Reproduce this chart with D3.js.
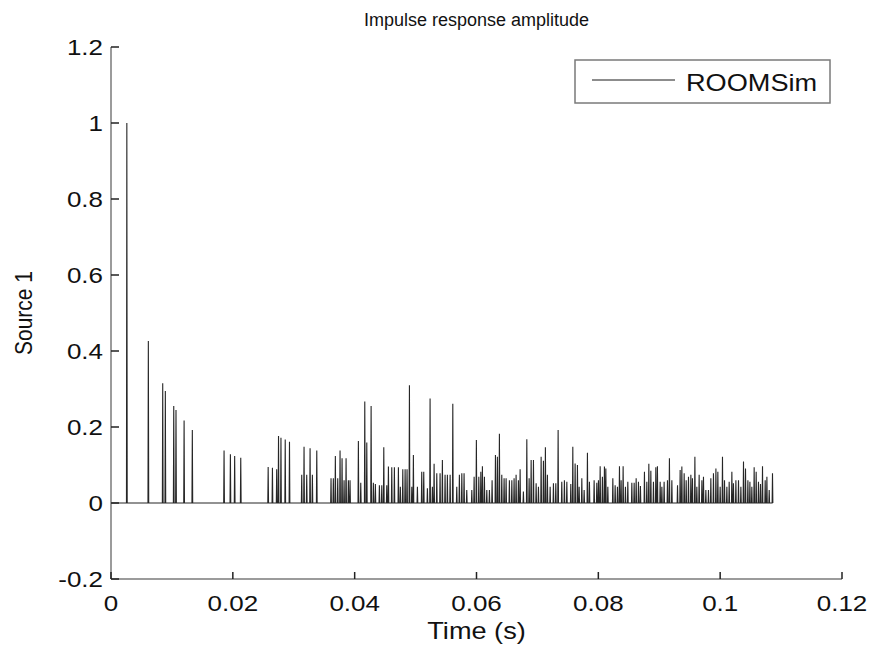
<!DOCTYPE html>
<html>
<head>
<meta charset="utf-8">
<script src="https://cdn.jsdelivr.net/npm/d3@7"></script>
<style>
  body { margin: 0; background: #fff; }
  text { font-family: "Liberation Sans", Arial, sans-serif; fill: #111; }
</style>
</head>
<body>
<div id="canvas"></div>
<script>
"use strict";

// Canvas setup
let svgWidth = 871;
let svgHeight = 646;
let margin = { top: 47, right: 29, bottom: 67, left: 111 };
let chartWidth = svgWidth - margin.left - margin.right;
let chartHeight = svgHeight - margin.top - margin.bottom;
let textStretch = 1.18; // the picture text is a bit wide

// Spike times (s)
let spikeTimes = [
  0.0026, 0.00613, 0.00849, 0.00892, 0.0103, 0.01067, 0.012, 0.01335,
  0.01856, 0.0196, 0.0203, 0.0213,
  0.0258, 0.0265, 0.0272, 0.0275, 0.0279, 0.0286, 0.0293,
  0.03131, 0.03169, 0.03213, 0.03268, 0.03306, 0.03378,
  0.03612, 0.0365, 0.03683, 0.03722, 0.0376, 0.03793, 0.03826, 0.03859, 0.03897, 0.03924,
  0.04061, 0.041, 0.04166, 0.04199, 0.0427, 0.04307, 0.0434, 0.04406, 0.04445, 0.04478,
  0.04527, 0.04554, 0.04609, 0.04652, 0.04718, 0.0475, 0.0479, 0.04828, 0.0486, 0.04899,
  0.04938, 0.04964, 0.0503, 0.05101, 0.05134, 0.05194, 0.05238, 0.05276,
  0.05304, 0.05348, 0.05402, 0.0544, 0.05484, 0.05522, 0.05567, 0.05611, 0.05676, 0.05719,
  0.05759, 0.05796, 0.0584, 0.05923, 0.05961, 0.05998, 0.06038, 0.06071, 0.06097, 0.0613,
  0.06169, 0.06212, 0.06256, 0.06311, 0.06343, 0.06376, 0.06415, 0.06453, 0.06486, 0.0654,
  0.0658, 0.06617, 0.0665, 0.06688, 0.06716, 0.0677, 0.06826, 0.06864, 0.06897, 0.06935,
  0.06979, 0.07017, 0.07061, 0.07099, 0.07131, 0.07164, 0.07209, 0.07263, 0.07302, 0.0734,
  0.074, 0.07443, 0.07483, 0.07548, 0.07581, 0.07619, 0.07657, 0.07685, 0.07729, 0.07767,
  0.07821, 0.07854, 0.07931, 0.07975, 0.08002, 0.0803, 0.08067, 0.081, 0.08123, 0.08156,
  0.08238, 0.08276, 0.08314, 0.08347, 0.08374, 0.08407, 0.08445, 0.08484, 0.0855, 0.08588,
  0.08621, 0.08659, 0.08691, 0.08757, 0.08796, 0.08829, 0.08862, 0.08905, 0.08944, 0.0897,
  0.09015, 0.09043, 0.0908, 0.09135, 0.09167, 0.09207, 0.093, 0.09343, 0.09371, 0.09409,
  0.09442, 0.0948, 0.09519, 0.09545, 0.09585, 0.09617, 0.09655, 0.097, 0.09726, 0.09765,
  0.09808, 0.09847, 0.0989, 0.0993, 0.09962, 0.1, 0.10038, 0.10071, 0.1011, 0.10148,
  0.10192, 0.10218, 0.10258, 0.10301, 0.1034, 0.10383, 0.10416, 0.10455, 0.10488, 0.1052,
  0.10558, 0.10591, 0.10629, 0.10662, 0.10695, 0.10739, 0.10767, 0.10805, 0.10859
];

// Spike amplitudes, same order
let spikeAmps = [
  1.0, 0.426, 0.315, 0.295, 0.255, 0.245, 0.217, 0.192,
  0.138, 0.128, 0.124, 0.119,
  0.095, 0.093, 0.089, 0.176, 0.172, 0.167, 0.161,
  0.074, 0.148, 0.074, 0.144, 0.074, 0.138,
  0.065, 0.065, 0.124, 0.065, 0.138, 0.118, 0.06, 0.118, 0.06, 0.06,
  0.163, 0.053, 0.267, 0.159, 0.255, 0.053, 0.05, 0.047, 0.047, 0.147,
  0.047, 0.096, 0.094, 0.094, 0.094, 0.043, 0.089, 0.089, 0.089, 0.31,
  0.043, 0.126, 0.043, 0.082, 0.082, 0.039, 0.275, 0.043,
  0.103, 0.078, 0.078, 0.113, 0.074, 0.074, 0.074, 0.261, 0.043, 0.074,
  0.078, 0.078, 0.034, 0.034, 0.069, 0.166, 0.069, 0.082, 0.097, 0.069,
  0.034, 0.034, 0.06, 0.126, 0.122, 0.182, 0.074, 0.065, 0.065, 0.06,
  0.06, 0.065, 0.074, 0.06, 0.089, 0.03, 0.168, 0.065, 0.113, 0.113,
  0.052, 0.043, 0.122, 0.111, 0.147, 0.074, 0.043, 0.052, 0.052, 0.192,
  0.056, 0.06, 0.056, 0.05, 0.148, 0.104, 0.1, 0.043, 0.065, 0.034,
  0.132, 0.056, 0.06, 0.053, 0.06, 0.097, 0.069, 0.096, 0.091, 0.043,
  0.065, 0.047, 0.043, 0.097, 0.06, 0.097, 0.043, 0.056, 0.053, 0.053,
  0.065, 0.056, 0.045, 0.082, 0.056, 0.103, 0.085, 0.056, 0.094, 0.097,
  0.056, 0.043, 0.056, 0.06, 0.118, 0.06, 0.047, 0.087, 0.096, 0.078,
  0.06, 0.069, 0.074, 0.065, 0.122, 0.043, 0.074, 0.06, 0.069, 0.034,
  0.034, 0.065, 0.078, 0.091, 0.082, 0.043, 0.122, 0.06, 0.043, 0.056,
  0.082, 0.052, 0.06, 0.06, 0.043, 0.109, 0.091, 0.06, 0.056, 0.043,
  0.094, 0.082, 0.056, 0.05, 0.097, 0.06, 0.069, 0.034, 0.078
];

let xTicks = [0, 0.02, 0.04, 0.06, 0.08, 0.1, 0.12];
let xTickLabels = ["0", "0.02", "0.04", "0.06", "0.08", "0.1", "0.12"];
let yTicks = [-0.2, 0, 0.2, 0.4, 0.6, 0.8, 1, 1.2];
let yTickLabels = ["-0.2", "0", "0.2", "0.4", "0.6", "0.8", "1", "1.2"];

//SVG container
let svg = d3.select("#canvas")
  .append("svg")
  .attr("width", svgWidth)
  .attr("height", svgHeight)
  .style("display", "block");

let chartArea = svg.append("g")
  .attr("transform", "translate(" + margin.left + "," + margin.top + ")");

// Scales
let xScale = d3.scaleLinear().domain([0, 0.12]).range([0, chartWidth]);
let yScale = d3.scaleLinear().domain([-0.2, 1.2]).range([chartHeight, 0]);

// stretched text helper
function addText(parent, x, y, str, size, anchor, rotate, stretch) {
  let sx = stretch === undefined ? textStretch : stretch;
  let t = "translate(" + x + "," + y + ") scale(" + sx + ",1)";
  if (rotate) t += " rotate(" + rotate + ")";
  return parent.append("text")
    .attr("transform", t)
    .attr("text-anchor", anchor)
    .style("font-size", size + "px")
    .text(str);
}

// Build the signal: baseline, then a narrow spike at every read time
let halfWidth = 0.00006;
let signal = [{ t: 0, a: 0 }];
for (let i = 0; i < spikeTimes.length; i++) {
  signal.push({ t: spikeTimes[i] - halfWidth, a: 0 });
  signal.push({ t: spikeTimes[i], a: spikeAmps[i] });
  signal.push({ t: spikeTimes[i] + halfWidth, a: 0 });
}

let line = d3.line()
  .x(function(d){ return xScale(d.t); })
  .y(function(d){ return yScale(d.a); });

chartArea.append("path")
  .datum(signal)
  .attr("fill", "none")
  .attr("stroke", "#262626")
  .attr("stroke-width", 1.1)
  .attr("d", line);

// Axes (left + bottom only, ticks pointing inward)
chartArea.append("line")
  .attr("x1", 0).attr("x2", 0)
  .attr("y1", 0).attr("y2", chartHeight)
  .attr("stroke", "#7a7a7a").attr("stroke-width", 1.5);
chartArea.append("line")
  .attr("x1", 0).attr("x2", chartWidth)
  .attr("y1", chartHeight).attr("y2", chartHeight)
  .attr("stroke", "#7a7a7a").attr("stroke-width", 1.5);

chartArea.selectAll(".ytick")
  .data(yTicks)
  .enter()
  .append("line")
  .attr("x1", 0).attr("x2", 8)
  .attr("y1", function(d){ return yScale(d); })
  .attr("y2", function(d){ return yScale(d); })
  .attr("stroke", "#222").attr("stroke-width", 1.5);

chartArea.selectAll(".xtick")
  .data(xTicks)
  .enter()
  .append("line")
  .attr("x1", function(d){ return xScale(d); })
  .attr("x2", function(d){ return xScale(d); })
  .attr("y1", chartHeight).attr("y2", chartHeight - 7)
  .attr("stroke", "#222").attr("stroke-width", 1.5);

// Tick labels
for (let i = 0; i < yTicks.length; i++) {
  addText(chartArea, -8, yScale(yTicks[i]) + 8, yTickLabels[i], 22, "end");
}
for (let i = 0; i < xTicks.length; i++) {
  addText(chartArea, xScale(xTicks[i]), chartHeight + 32, xTickLabels[i], 22, "middle");
}

// Labels
addText(svg, margin.left + chartWidth / 2, 26, "Impulse response amplitude", 18, "middle", 0, 1);
addText(svg, margin.left + chartWidth / 2, 639, "Time (s)", 23, "middle");
addText(svg, 32, margin.top + chartHeight / 2, "Source 1", 21, "middle", -90);

// Legend
let legend = svg.append("g").attr("transform", "translate(575,60)");
legend.append("rect")
  .attr("width", 255).attr("height", 43)
  .attr("fill", "#fff")
  .attr("stroke", "#7a7a7a").attr("stroke-width", 1.5);
legend.append("line")
  .attr("x1", 17).attr("x2", 100)
  .attr("y1", 20).attr("y2", 20)
  .attr("stroke", "#1a1a1a").attr("stroke-width", 1);
addText(legend, 111, 31, "ROOMSim", 23, "start");
</script>
</body>
</html>
